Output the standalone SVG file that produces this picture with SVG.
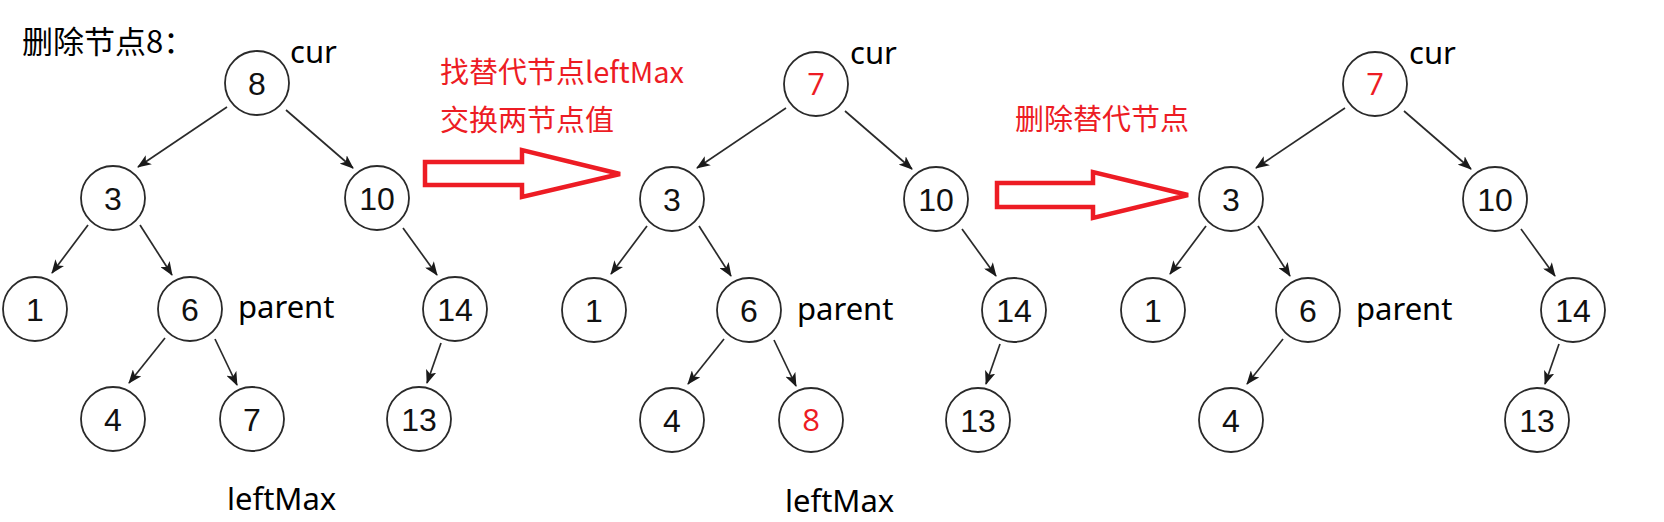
<svg xmlns="http://www.w3.org/2000/svg" width="1664" height="522" viewBox="0 0 1664 522">
<style>
.nd circle{fill:#fff;stroke:#2a2a2a;stroke-width:1.8}
.nd text{font-family:"Liberation Sans",Arial,sans-serif;font-size:32px;fill:#111;text-anchor:middle}
.nd text.red{font-family:"Open Sans","Noto Sans",sans-serif;font-size:31px;fill:#ed1c24}
.ed line{stroke:#2a2a2a;stroke-width:1.7;marker-end:url(#ah)}
.lbl{font-family:"Noto Sans","Open Sans",sans-serif;font-size:31px;fill:#000}
.cn{font-family:"Noto Sans CJK SC","Noto Sans",sans-serif;font-size:29px;fill:#ed1c24}
.title{font-family:"Noto Sans CJK SC","Noto Sans",sans-serif;font-size:31px;fill:#000}
.big{fill:none;stroke:#ed1c24;stroke-width:4.5;stroke-linejoin:miter}
</style>
<defs>
<marker id="ah" viewBox="0 0 14 11" refX="13" refY="5.5" markerWidth="14" markerHeight="11" markerUnits="userSpaceOnUse" orient="auto">
<path d="M0,0 L14,5.5 L0,11 L3.5,5.5 z" fill="#1a1a1a"/>
</marker>
</defs>
<rect width="1664" height="522" fill="#fff"/>
<text class="title" x="22" y="53">删除节点8：</text>

<!-- Tree 1 -->
<g id="tree1">
<g id="t1-connectors" class="ed">
<line x1="227" y1="107" x2="138" y2="167"/>
<line x1="286" y1="110" x2="353" y2="168"/>
<line x1="88" y1="225" x2="52" y2="273"/>
<line x1="140" y1="225" x2="172" y2="275"/>
<line x1="165" y1="338" x2="129" y2="383"/>
<line x1="215" y1="339" x2="237" y2="385"/>
<line x1="403" y1="228" x2="437" y2="275"/>
<line x1="441" y1="343" x2="427" y2="383"/>
</g>
<g id="t1-n8" class="nd"><circle cx="257" cy="83" r="32"/><text x="257" y="94.5">8</text></g>
<g id="t1-n3" class="nd"><circle cx="113" cy="198" r="32"/><text x="113" y="209.5">3</text></g>
<g id="t1-n10" class="nd"><circle cx="377" cy="198" r="32"/><text x="377" y="209.5">10</text></g>
<g id="t1-n1" class="nd"><circle cx="35" cy="309" r="32"/><text x="35" y="320.5">1</text></g>
<g id="t1-n6" class="nd"><circle cx="190" cy="309" r="32"/><text x="190" y="320.5">6</text></g>
<g id="t1-n14" class="nd"><circle cx="455" cy="309" r="32"/><text x="455" y="320.5">14</text></g>
<g id="t1-n4" class="nd"><circle cx="113" cy="419" r="32"/><text x="113" y="430.5">4</text></g>
<g id="t1-n7" class="nd"><circle cx="252" cy="419" r="32"/><text x="252" y="430.5">7</text></g>
<g id="t1-n13" class="nd"><circle cx="419" cy="419" r="32"/><text x="419" y="430.5">13</text></g>
<text class="lbl" x="290" y="63">cur</text>
<text class="lbl" x="238" y="318">parent</text>
<text class="lbl" x="227" y="510">leftMax</text>
</g>

<!-- Arrow 1 -->
<g id="arrow1">
<polygon class="big" points="425,162 522,162 522,150 620,174 522,197 522,185 425,185"/>
<text class="cn" x="440" y="83">找替代节点leftMax</text>
<text class="cn" x="440" y="131">交换两节点值</text>
</g>

<!-- Tree 2 -->
<g id="tree2" transform="translate(559,1)">
<g id="t2-connectors" class="ed">
<line x1="227" y1="107" x2="138" y2="167"/>
<line x1="286" y1="110" x2="353" y2="168"/>
<line x1="88" y1="225" x2="52" y2="273"/>
<line x1="140" y1="225" x2="172" y2="275"/>
<line x1="165" y1="338" x2="129" y2="383"/>
<line x1="215" y1="339" x2="237" y2="385"/>
<line x1="403" y1="228" x2="437" y2="275"/>
<line x1="441" y1="343" x2="427" y2="383"/>
</g>
<g id="t2-n7" class="nd"><circle cx="257" cy="83" r="32"/><text class="red" x="257" y="94">7</text></g>
<g id="t2-n3" class="nd"><circle cx="113" cy="198" r="32"/><text x="113" y="209.5">3</text></g>
<g id="t2-n10" class="nd"><circle cx="377" cy="198" r="32"/><text x="377" y="209.5">10</text></g>
<g id="t2-n1" class="nd"><circle cx="35" cy="309" r="32"/><text x="35" y="320.5">1</text></g>
<g id="t2-n6" class="nd"><circle cx="190" cy="309" r="32"/><text x="190" y="320.5">6</text></g>
<g id="t2-n14" class="nd"><circle cx="455" cy="309" r="32"/><text x="455" y="320.5">14</text></g>
<g id="t2-n4" class="nd"><circle cx="113" cy="419" r="32"/><text x="113" y="430.5">4</text></g>
<g id="t2-n8" class="nd"><circle cx="252" cy="419" r="32"/><text class="red" x="252" y="430">8</text></g>
<g id="t2-n13" class="nd"><circle cx="419" cy="419" r="32"/><text x="419" y="430.5">13</text></g>
<text class="lbl" x="291" y="63">cur</text>
<text class="lbl" x="238" y="319">parent</text>
<text class="lbl" x="226" y="511">leftMax</text>
</g>

<!-- Arrow 2 -->
<g id="arrow2">
<polygon class="big" points="997,183 1093,183 1093,172 1188,195 1093,218 1093,207 997,207"/>
<text class="cn" x="1015" y="130">删除替代节点</text>
</g>

<!-- Tree 3 -->
<g id="tree3" transform="translate(1118,1)">
<g id="t3-connectors" class="ed">
<line x1="227" y1="107" x2="138" y2="167"/>
<line x1="286" y1="110" x2="353" y2="168"/>
<line x1="88" y1="225" x2="52" y2="273"/>
<line x1="140" y1="225" x2="172" y2="275"/>
<line x1="165" y1="338" x2="129" y2="383"/>
<line x1="403" y1="228" x2="437" y2="275"/>
<line x1="441" y1="343" x2="427" y2="383"/>
</g>
<g id="t3-n7" class="nd"><circle cx="257" cy="83" r="32"/><text class="red" x="257" y="94">7</text></g>
<g id="t3-n3" class="nd"><circle cx="113" cy="198" r="32"/><text x="113" y="209.5">3</text></g>
<g id="t3-n10" class="nd"><circle cx="377" cy="198" r="32"/><text x="377" y="209.5">10</text></g>
<g id="t3-n1" class="nd"><circle cx="35" cy="309" r="32"/><text x="35" y="320.5">1</text></g>
<g id="t3-n6" class="nd"><circle cx="190" cy="309" r="32"/><text x="190" y="320.5">6</text></g>
<g id="t3-n14" class="nd"><circle cx="455" cy="309" r="32"/><text x="455" y="320.5">14</text></g>
<g id="t3-n4" class="nd"><circle cx="113" cy="419" r="32"/><text x="113" y="430.5">4</text></g>
<g id="t3-n13" class="nd"><circle cx="419" cy="419" r="32"/><text x="419" y="430.5">13</text></g>
<text class="lbl" x="291" y="63">cur</text>
<text class="lbl" x="238" y="319">parent</text>
</g>
</svg>
